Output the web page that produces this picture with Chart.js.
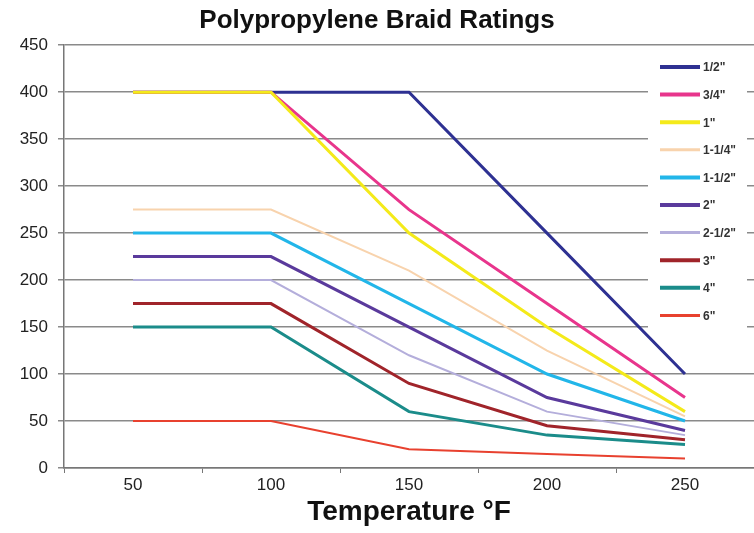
<!DOCTYPE html>
<html>
<head>
<meta charset="utf-8">
<title>Polypropylene Braid Ratings</title>
<script src="https://cdn.jsdelivr.net/npm/chart.js@4.4.1/dist/chart.umd.min.js"></script>
<style>
    html, body { margin: 0; padding: 0; background: #fff; }
    #wrap { width: 754px; height: 533px; position: relative; }
</style>
</head>
<body>
<div id="wrap"><canvas id="braidChart"></canvas></div>
<script>
// temperatures (°F) and pressure rating per hose size
const temps = ['50', '100', '150', '200', '250'];
const yTicks = [0, 50, 100, 150, 200, 250, 300, 350, 400, 450];

const sizes = ['1/2"', '3/4"', '1"', '1-1/4"', '1-1/2"', '2"', '2-1/2"', '3"', '4"', '6"'];
const r12 = [400, 400, 400, 250, 100];
const r34 = [400, 400, 275, 175, 75];
const r1 = [400, 400, 250, 150, 60];
const r114 = [275, 275, 210, 125, 55];
const r112 = [250, 250, 175, 100, 50];
const r2 = [225, 225, 150, 75, 40];
const r212 = [200, 200, 120, 60, 35];
const r3 = [175, 175, 90, 45, 30];
const r4 = [150, 150, 60, 35, 25];
const r6 = [50, 50, 20, 15, 10];

const seriesData = [r12, r34, r1, r114, r112, r2, r212, r3, r4, r6];
const colors = ['#2e3192', '#e8358c', '#f4ea1a', '#f8d3ad', '#22b6e9', '#5a3a9c', '#b4aedb', '#a0242a', '#1b8c8a', '#e8412f'];
const widths = [3, 3, 3, 2, 3, 3, 2, 3, 3, 2];

const fontFam = '"Liberation Sans", Arial, Helvetica, sans-serif';

// legend drawn as a white box sitting inside the plot area
const boxLegend = {
    id: 'boxLegend',
    afterDatasetsDraw(chart) {
        const ctx = chart.ctx;
        ctx.save();
        ctx.fillStyle = '#ffffff';
        ctx.fillRect(648, 54, 99, 276);
        ctx.font = 'bold 12px ' + fontFam;
        ctx.textBaseline = 'middle';
        ctx.textAlign = 'left';
        chart.data.datasets.forEach(function (ds, i) {
            const y = 67 + i * 27.6;
            ctx.strokeStyle = ds.borderColor;
            ctx.lineWidth = ds.borderWidth + 1;
            ctx.beginPath();
            ctx.moveTo(660, y);
            ctx.lineTo(700, y);
            ctx.stroke();
            ctx.fillStyle = '#333';
            ctx.fillText(ds.label, 703, y + 1);
        });
        ctx.restore();
    }
};

const ctx = document.getElementById('braidChart').getContext('2d');
new Chart(ctx, {
    type: 'line',
    data: {
        labels: temps,
        datasets: sizes.map(function (name, i) {
            return {
                label: name,
                data: seriesData[i],
                borderColor: colors[i],
                backgroundColor: colors[i],
                borderWidth: widths[i],
                pointRadius: 0,
                tension: 0,
                fill: false,
                // later sizes sit on top, like the original
                order: sizes.length - i
            };
        })
    },
    options: {
        responsive: true,
        maintainAspectRatio: false,
        animation: false,
        layout: { padding: { top: 0, right: 0, bottom: 0, left: 0 } },
        scales: {
            x: {
                type: 'category',
                offset: true,
                afterFit: function (scale) { scale.height = 65; },
                grid: {
                    offset: true,
                    drawOnChartArea: false,
                    drawTicks: true,
                    tickLength: 5,
                    color: '#777'
                },
                border: { color: '#777', width: 1.5 },
                ticks: {
                    color: '#222',
                    padding: 2,
                    font: { family: fontFam, size: 17 }
                },
                title: {
                    display: true,
                    text: 'Temperature °F',
                    color: '#111',
                    padding: { top: 0, bottom: 4 },
                    font: { family: fontFam, size: 28, weight: 'bold' }
                }
            },
            y: {
                min: 0,
                max: 450,
                afterFit: function (scale) { scale.width = 64; },
                afterBuildTicks: function (scale) {
                    scale.ticks = yTicks.map(v => ({ value: v }));
                },
                grid: {
                    color: '#8a8a8a',
                    lineWidth: 1.5,
                    tickLength: 6
                },
                border: { color: '#777', width: 1.5 },
                ticks: {
                    color: '#222',
                    padding: 10,
                    font: { family: fontFam, size: 17 }
                }
            }
        },
        plugins: {
            legend: { display: false },
            tooltip: { enabled: false },
            title: {
                display: true,
                text: 'Polypropylene Braid Ratings',
                color: '#111',
                padding: { top: 5, bottom: 9 },
                font: { family: fontFam, size: 26, weight: 'bold' }
            }
        }
    },
    plugins: [boxLegend]
});
</script>
</body>
</html>
